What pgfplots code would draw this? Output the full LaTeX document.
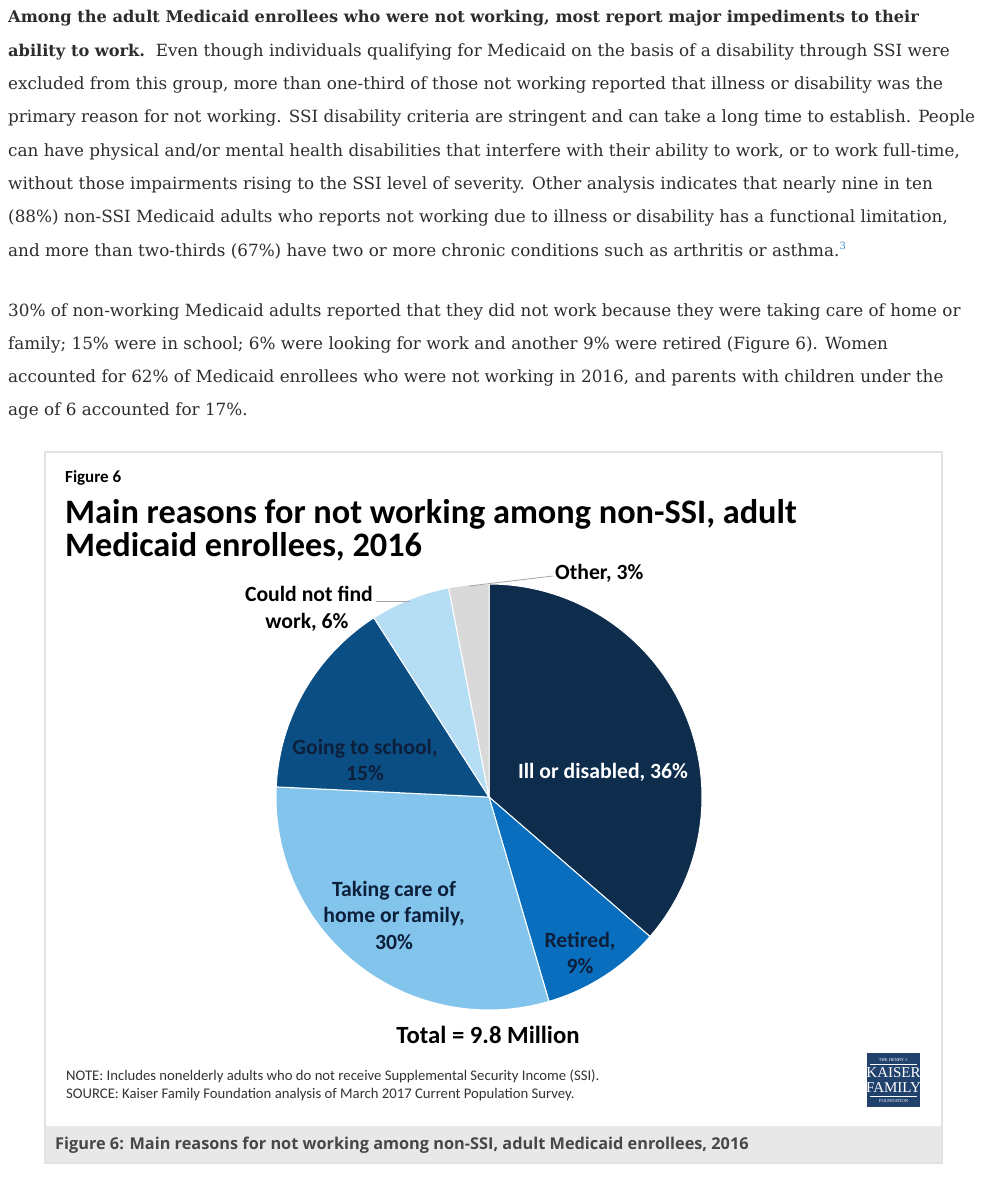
\documentclass[border=0pt]{standalone}
\usepackage{pgfplots}
\pgfplotsset{compat=1.18}
\usepackage{fontspec}
\setmainfont{DejaVu Serif}
\newfontfamily\calib{Carlito}
\newfontfamily\osans{Open Sans}
\newfontfamily\lserif{Liberation Serif}
\definecolor{bodyc}{HTML}{2D2D2D}
\definecolor{supc}{HTML}{3B8FD0}
\definecolor{cIll}{HTML}{0E2C4C}
\definecolor{cRet}{HTML}{0A6EBE}
\definecolor{cTake}{HTML}{82C4EC}
\definecolor{cSchool}{HTML}{0B4E84}
\definecolor{cCould}{HTML}{B5DDF4}
\definecolor{cOther}{HTML}{D9D9D9}
\definecolor{lab}{HTML}{0D1F3A}
\definecolor{boxc}{HTML}{E2E2E2}
\definecolor{capbg}{HTML}{E8E8E8}
\definecolor{capc}{HTML}{474747}
\definecolor{logoc}{HTML}{22426E}
\newcommand\body{\fontsize{16.8}{20}\selectfont}
\newcommand\bodyb[1]{{\fontsize{16.2}{20}\selectfont\bfseries #1}}
\begin{document}
\begin{tikzpicture}[x=1pt,y=1pt]
\path[use as bounding box, fill=white] (0,0) rectangle (980,-1177);
% ---- article text ----
\begin{scope}[every node/.style={anchor=base west, inner sep=0pt, text=bodyc, font=\body}]
\node at (8,-23) {\bodyb{Among the adult Medicaid enrollees who were not working, most report major impediments to their}};
\node at (8,-56.3) {\bodyb{ability to work.}\ \ Even though individuals qualifying for Medicaid on the basis of a disability through SSI were};
\node at (8,-89.6) {excluded from this group, more than one-third of those not working reported that illness or disability was the};
\node at (8,-122.9) {primary reason for not working. SSI disability criteria are stringent and can take a long time to establish. People};
\node at (8,-156.2) {can have physical and/or mental health disabilities that interfere with their ability to work, or to work full-time,};
\node at (8,-189.5) {without those impairments rising to the SSI level of severity. Other analysis indicates that nearly nine in ten};
\node at (8,-222.8) {(88\%) non-SSI Medicaid adults who reports not working due to illness or disability has a functional limitation,};
\node at (8,-256.1) {and more than two-thirds (67\%) have two or more chronic conditions such as arthritis or asthma.\textsuperscript{\color{supc}\fontsize{10}{10}\selectfont 3}};
\node at (8,-316) {30\% of non-working Medicaid adults reported that they did not work because they were taking care of home or};
\node at (8,-349.3) {family; 15\% were in school; 6\% were looking for work and another 9\% were retired (Figure 6). Women};
\node at (8,-382.6) {accounted for 62\% of Medicaid enrollees who were not working in 2016, and parents with children under the};
\node at (8,-415.9) {age of 6 accounted for 17\%.};
\end{scope}
% ---- figure frame ----
\fill[capbg] (45,-1126) rectangle (942,-1163);
\draw[boxc, line width=2pt] (45,-452) rectangle (942,-1163);
\node[anchor=base west, inner sep=0pt, font=\osans\bfseries\fontsize{16.3}{18}\selectfont, text=capc] at (55,-1149) {Figure 6: Main reasons for not working among non-SSI, adult Medicaid enrollees, 2016};
% ---- chart titles ----
\node[anchor=base west, inner sep=0pt, font=\calib\bfseries\fontsize{17}{18}\selectfont] at (65,-482) {Figure 6};
\node[anchor=base west, inner sep=0pt, font=\calib\bfseries\fontsize{34.3}{36}\selectfont] at (65,-523) {Main reasons for not working among non-SSI, adult};
\node[anchor=base west, inner sep=0pt, font=\calib\bfseries\fontsize{34.3}{36}\selectfont] at (65,-556) {Medicaid enrollees, 2016};
% ---- pie ----
\pgfmathsetmacro\tot{36+9+30+15+6+3}
\pgfmathsetmacro\aA{90}
\pgfmathsetmacro\aB{\aA-36*360/\tot}
\pgfmathsetmacro\aC{\aB-9*360/\tot}
\pgfmathsetmacro\aD{\aC-30*360/\tot}
\pgfmathsetmacro\aE{\aD-15*360/\tot}
\pgfmathsetmacro\aF{\aE-6*360/\tot}
\pgfmathsetmacro\aG{\aF-3*360/\tot}
\begin{axis}[at={(489pt,-797pt)}, anchor=center, width=426pt, height=426pt, scale only axis,
  xmin=-1, xmax=1, ymin=-1, ymax=1, hide axis, clip=false]
\addplot[fill=cIll, draw=white, line width=1pt, domain=\aB:\aA, samples=120] ({cos(x)},{sin(x)}) -- (axis cs:0,0) -- cycle;
\addplot[fill=cRet, draw=white, line width=1pt, domain=\aC:\aB, samples=40] ({cos(x)},{sin(x)}) -- (axis cs:0,0) -- cycle;
\addplot[fill=cTake, draw=white, line width=1pt, domain=\aD:\aC, samples=100] ({cos(x)},{sin(x)}) -- (axis cs:0,0) -- cycle;
\addplot[fill=cSchool, draw=white, line width=1pt, domain=\aE:\aD, samples=60] ({cos(x)},{sin(x)}) -- (axis cs:0,0) -- cycle;
\addplot[fill=cCould, draw=white, line width=1pt, domain=\aF:\aE, samples=30] ({cos(x)},{sin(x)}) -- (axis cs:0,0) -- cycle;
\addplot[fill=cOther, draw=white, line width=1pt, domain=\aG:\aF, samples=20] ({cos(x)},{sin(x)}) -- (axis cs:0,0) -- cycle;
\end{axis}
% ---- slice labels ----
\begin{scope}[every node/.style={inner sep=0pt, font=\calib\bfseries\fontsize{21.7}{26.5}\selectfont, align=center}]
\node[text=white] at (603,-772) {Ill or disabled, 36\%};
\node[text=lab] at (365,-760) {Going to school,\\15\%};
\node[text=lab] at (394,-915) {Taking care of\\home or family,\\30\%};
\node[text=lab] at (580,-953) {Retired,\\9\%};
\node[text=black, anchor=west] at (555,-573) {Other, 3\%};
\node[text=black, anchor=east] at (373,-594) {Could not find};
\node[text=black] at (307,-622) {work, 6\%};
\end{scope}
\draw[gray!70, line width=0.8pt] (376,-601) -- (410,-601);
\draw[gray!70, line width=0.8pt] (469,-586) -- (553,-576);
\node[inner sep=0pt, font=\calib\bfseries\fontsize{24.7}{26}\selectfont, anchor=base] at (488,-1043) {Total = 9.8 Million};
\node[anchor=base west, inner sep=0pt, font=\calib\fontsize{14.7}{15}\selectfont, text=black!80] at (66,-1080) {NOTE: Includes nonelderly adults who do not receive Supplemental Security Income (SSI).};
\node[anchor=base west, inner sep=0pt, font=\calib\fontsize{14.7}{15}\selectfont, text=black!80] at (66,-1098) {SOURCE: Kaiser Family Foundation analysis of March 2017 Current Population Survey.};
% ---- logo ----
\fill[logoc] (867,-1053) rectangle (920,-1107);
\begin{scope}[every node/.style={inner sep=0pt, text=white, anchor=base}]
\node[font=\lserif\fontsize{4.5}{5}\selectfont] at (893.5,-1061) {THE HENRY J.};
\node[font=\lserif\fontsize{15}{15}\selectfont] at (893.5,-1077) {KAISER};
\node[font=\lserif\fontsize{15}{15}\selectfont] at (893.5,-1092) {FAMILY};
\node[font=\lserif\fontsize{4.5}{5}\selectfont] at (893.5,-1102) {FOUNDATION};
\end{scope}
\draw[white, line width=0.3pt] (870,-1064) -- (917,-1064);
\draw[white, line width=0.3pt] (870,-1096) -- (917,-1096);
\end{tikzpicture}
\end{document}
